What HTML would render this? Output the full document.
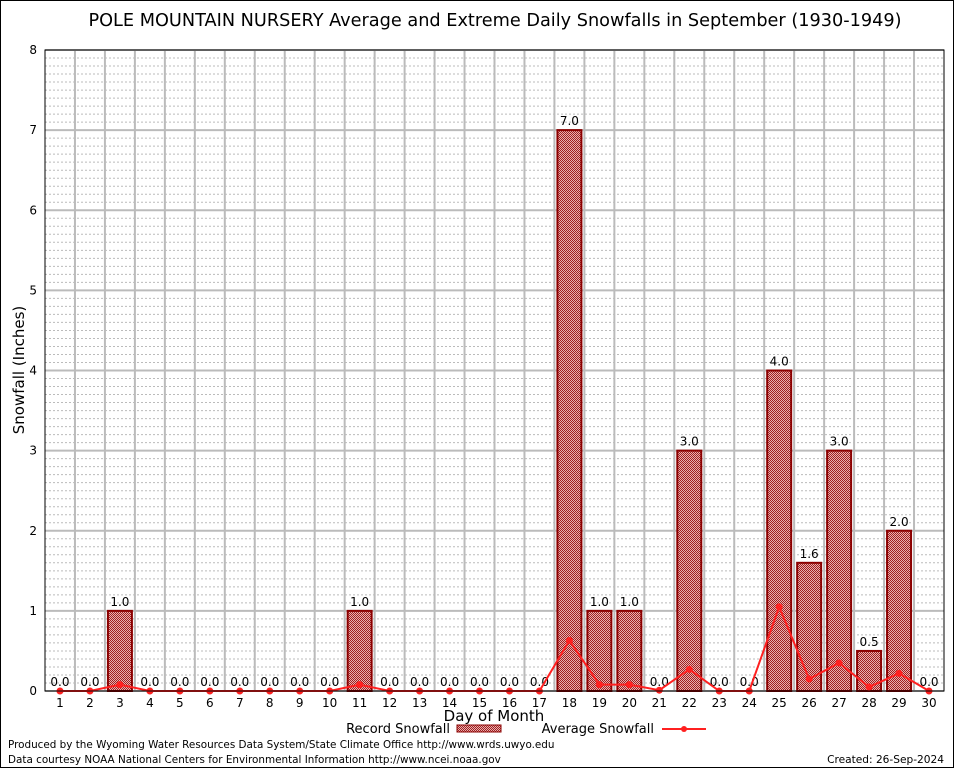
<!DOCTYPE html>
<html><head><meta charset="utf-8"><style>
body{margin:0;background:#fff}
svg text{font-family:"DejaVu Sans","Liberation Sans",sans-serif}
</style></head><body>
<svg id="chart" width="954" height="768" xmlns="http://www.w3.org/2000/svg">
<defs>
<pattern id="hatch" width="2" height="2" patternUnits="userSpaceOnUse">
<rect width="2" height="2" fill="#e8b0b0"/>
<rect width="1" height="1" fill="#a02020"/>
<rect x="1" y="1" width="1" height="1" fill="#a02020"/>
</pattern>
</defs>
<rect x="0.5" y="0.5" width="953" height="767" fill="#fff" stroke="#000"/>
<text x="495" y="26" font-size="17.7" text-anchor="middle">POLE MOUNTAIN NURSERY Average and Extreme Daily Snowfalls in September (1930-1949)</text>
<g id="grid"></g>
<g id="bars"></g>
<g id="line"></g>
<g id="axes"></g>
<text x="24" y="370" font-size="15" text-anchor="middle" transform="rotate(-90 24 370)">Snowfall (Inches)</text>
<text x="494" y="721" font-size="15" text-anchor="middle">Day of Month</text>
<g>
<text x="450" y="733" font-size="13" text-anchor="end">Record Snowfall</text>
<rect x="457" y="725" width="44" height="7" fill="url(#hatch)" stroke="#8b0000"/>
<text x="654" y="733" font-size="13" text-anchor="end">Average Snowfall</text>
<line x1="662" y1="729" x2="706" y2="729" stroke="#ff2020" stroke-width="2"/>
<circle cx="684" cy="729" r="3" fill="#ff2020"/>
</g>
<text x="8" y="748" font-size="10.4">Produced by the Wyoming Water Resources Data System/State Climate Office http://www.wrds.uwyo.edu</text>
<text x="8" y="763" font-size="10.4">Data courtesy NOAA National Centers for Environmental Information http://www.ncei.noaa.gov</text>
<text x="944" y="763" font-size="10.6" text-anchor="end">Created: 26-Sep-2024</text>
</svg>
<script>
const days = [1,2,3,4,5,6,7,8,9,10,11,12,13,14,15,16,17,18,19,20,21,22,23,24,25,26,27,28,29,30];
const recordSnow = [0,0,1,0,0,0,0,0,0,0,1,0,0,0,0,0,0,7,1,1,0,3,0,0,4,1.6,3,0.5,2,0];
const avgSnow = [0,0,0.08,0,0,0,0,0,0,0,0.08,0,0,0,0,0,0,0.63,0.08,0.08,0.01,0.27,0,0,1.05,0.15,0.35,0.05,0.22,0];
const yTicks = [0,1,2,3,4,5,6,7,8];

const L=45,R=944,T=50,B=691;
const xs=d=>L+(d-0.5)*(R-L)/30;
const ys=v=>B-v*(B-T)/8;
const NS="http://www.w3.org/2000/svg";
function mk(tag,attrs,parent,txt){const e=document.createElementNS(NS,tag);for(const k in attrs)e.setAttribute(k,attrs[k]);if(txt!==undefined)e.textContent=txt;parent.appendChild(e);return e;}
const grid=document.getElementById('grid'),bars=document.getElementById('bars'),line=document.getElementById('line'),axes=document.getElementById('axes');

for(let i=1;i<80;i++){ if(i%10===0)continue;
  const g=mk('line',{x1:L,x2:R,y1:ys(i/10),y2:ys(i/10),stroke:'#bbb','stroke-dasharray':'2,2','stroke-width':1},grid);
  
  
}
yTicks.forEach(t=>{
  const g=mk('line',{x1:L,x2:R,y1:ys(t),y2:ys(t),stroke:'#bbb','stroke-width':2},grid);
  
  
  const tx=mk('text',{x:L-8,y:ys(t)+4,'font-size':12,'text-anchor':'end','font-family':'Liberation Serif'},axes,String(t));
  
  
});
for(let k=1;k<30;k++){
  const x=L+k*(R-L)/30;
  const g=mk('line',{x1:x,x2:x,y1:T,y2:B,stroke:'#bbb','stroke-width':2},grid);
  
  
}
days.forEach((d,i)=>{
  const v=recordSnow[i],x=xs(d);
  if(v>0){
    const r=mk('rect',{x:x-12,y:ys(v),width:24,height:B-ys(v),fill:'url(#hatch)',stroke:'#8b0000','stroke-width':2},bars);
    
    
  }
  const lb=mk('text',{x:x,y:ys(v)-5,'font-size':12,'text-anchor':'middle'},bars,v.toFixed(1));
  
  
  const tl=mk('text',{x:x,y:B+16,'font-size':12,'text-anchor':'middle','font-family':'Liberation Serif'},axes,String(d));
  
  
});
const pts=days.map((d,i)=>xs(d)+','+ys(avgSnow[i])).join(' ');
const pl=mk('polyline',{points:pts,fill:'none',stroke:'#ff2020','stroke-width':2},line);


days.forEach((d,i)=>{
  const c=mk('circle',{cx:xs(d),cy:ys(avgSnow[i]),r:3.5,fill:'#ff2020'},line);
  
  
});
const fr=mk('rect',{x:L,y:T,width:R-L,height:B-T,fill:'none',stroke:'#000','stroke-width':1},axes);


</script>
</body></html>
